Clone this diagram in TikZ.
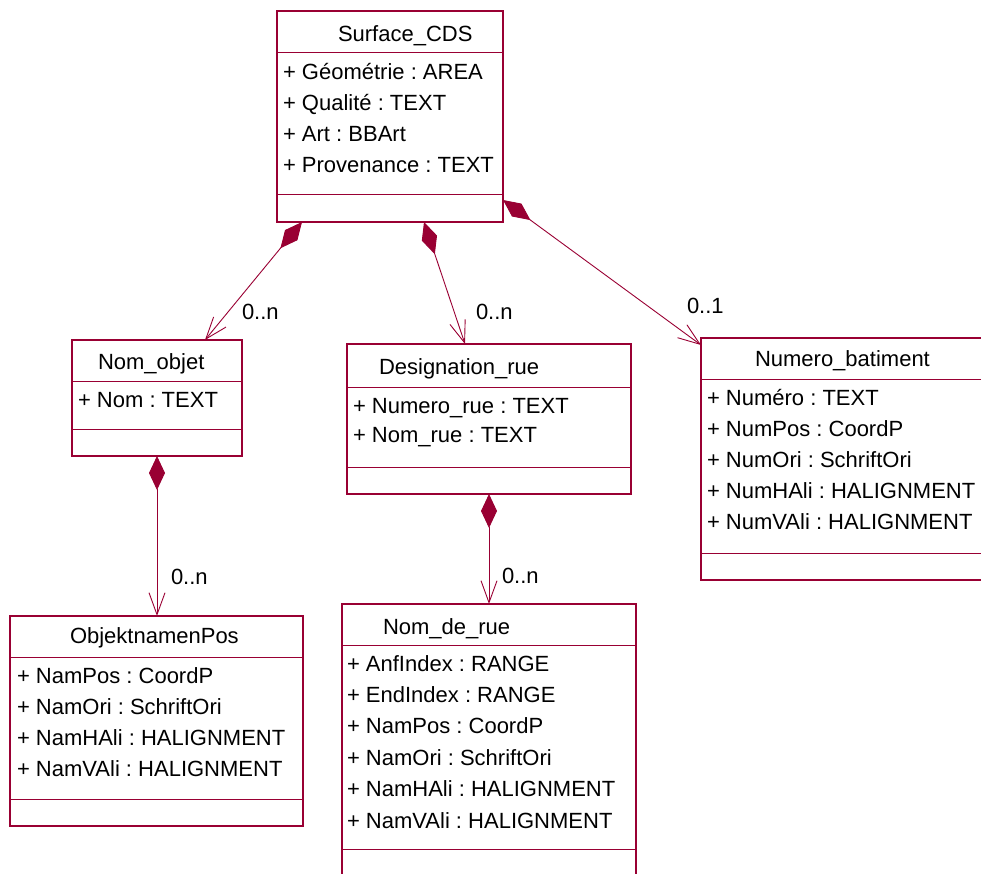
\documentclass[tikz,border=0pt]{standalone}
\usepackage{fontspec}
\setmainfont{Liberation Sans}
\usetikzlibrary{arrows.meta}
\definecolor{umlred}{RGB}{153,0,51}
\frenchspacing
\begin{document}
\begin{tikzpicture}[x=1pt,y=-1pt,
  box/.style={draw=umlred, line width=1.2pt, anchor=north west, inner sep=0pt, outer sep=0pt},
  sepline/.style={draw=umlred, line width=1pt},
  txt/.style={anchor=base west, inner sep=0pt, outer sep=0pt, font=\fontsize{22}{26}\selectfont\frenchspacing},
  assoc/.style={draw=umlred, line width=0.9pt, {Diamond[length=34pt,width=16pt]}-{Straight Barb[length=22pt,width=16pt]}}]
\clip (0,0) rectangle (981,873);
\useasboundingbox (0,0) rectangle (981,873);

% ---------- boxes ----------
\node[box, minimum width=226pt, minimum height=211pt] (surf) at (277,11) {};
\draw[sepline] (277,52) -- (503,52);
\draw[sepline] (277,194) -- (503,194);
\node[txt] (surfT) at (338,41) {Surface\_CDS};
\node[txt] (surfA1) at (283,79) {+ Géométrie : AREA};
\node[txt] (surfA2) at (283,110) {+ Qualité : TEXT};
\node[txt] (surfA3) at (283,141) {+ Art : BBArt};
\node[txt] (surfA4) at (283,172) {+ Provenance : TEXT};

\node[box, minimum width=170pt, minimum height=116pt] (nobj) at (72,340) {};
\draw[sepline] (72,381) -- (242,381);
\draw[sepline] (72,429) -- (242,429);
\node[txt] (nobjT) at (98,369) {Nom\_objet};
\node[txt] (nobjA1) at (78,407) {+ Nom : TEXT};

\node[box, minimum width=284pt, minimum height=150pt] (desig) at (347,344) {};
\draw[sepline] (347,387) -- (631,387);
\draw[sepline] (347,467) -- (631,467);
\node[txt] (desigT) at (379,374) {Designation\_rue};
\node[txt] (desigA1) at (353,413) {+ Numero\_rue : TEXT};
\node[txt] (desigA2) at (353,442) {+ Nom\_rue : TEXT};

\node[box, minimum width=292pt, minimum height=242pt] (numb) at (701,338) {};
\draw[sepline] (701,379) -- (993,379);
\draw[sepline] (701,553) -- (993,553);
\node[txt] (numbT) at (755,366) {Numero\_batiment};
\node[txt] (numbA1) at (707,405) {+ Numéro : TEXT};
\node[txt] (numbA2) at (707,436) {+ NumPos : CoordP};
\node[txt] (numbA3) at (707,467) {+ NumOri : SchriftOri};
\node[txt] (numbA4) at (707,498) {+ NumHAli : HALIGNMENT};
\node[txt] (numbA5) at (707,529) {+ NumVAli : HALIGNMENT};

\node[box, minimum width=293pt, minimum height=210pt] (objp) at (10,616) {};
\draw[sepline] (10,657) -- (303,657);
\draw[sepline] (10,799) -- (303,799);
\node[txt] (objpT) at (70,643) {ObjektnamenPos};
\node[txt] (objpA1) at (17,683) {+ NamPos : CoordP};
\node[txt] (objpA2) at (17,714) {+ NamOri : SchriftOri};
\node[txt] (objpA3) at (17,745) {+ NamHAli : HALIGNMENT};
\node[txt] (objpA4) at (17,776) {+ NamVAli : HALIGNMENT};

\node[box, minimum width=294pt, minimum height=290pt] (nrue) at (342,604) {};
\draw[sepline] (342,645) -- (636,645);
\draw[sepline] (342,849) -- (636,849);
\node[txt] (nrueT) at (383,634) {Nom\_de\_rue};
\node[txt] (nrueA1) at (347,671) {+ AnfIndex : RANGE};
\node[txt] (nrueA2) at (347,702) {+ EndIndex : RANGE};
\node[txt] (nrueA3) at (347,733) {+ NamPos : CoordP};
\node[txt] (nrueA4) at (347,765) {+ NamOri : SchriftOri};
\node[txt] (nrueA5) at (347,796) {+ NamHAli : HALIGNMENT};
\node[txt] (nrueA6) at (347,828) {+ NamVAli : HALIGNMENT};

% ---------- connector end points ----------
\coordinate (sA) at (302,222);
\coordinate (eA) at (205,340);
\coordinate (sB) at (424,222);
\coordinate (eB) at (465,344);
\coordinate (sC) at (503,200);
\coordinate (eC) at (701,345);
\coordinate (sD) at (157,456);
\coordinate (eD) at (157,616);
\coordinate (sE) at (489,494);
\coordinate (eE) at (489,604);

\draw[assoc] (sA) -- (eA);
\draw[assoc] (sB) -- (eB);
\draw[assoc] (sC) -- (eC);
\draw[assoc] (sD) -- (eD);
\draw[assoc] (sE) -- (eE);

% ---------- multiplicities ----------
\node[txt] (mA) at (242,319) {0..n};
\node[txt] (mB) at (476,319) {0..n};
\node[txt] (mC) at (687,313) {0..1};
\node[txt] (mD) at (171,584) {0..n};
\node[txt] (mE) at (502,583) {0..n};
\end{tikzpicture}
\end{document}
